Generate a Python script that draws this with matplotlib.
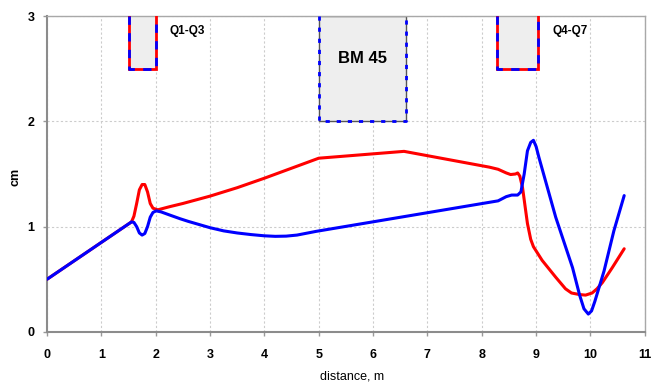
import matplotlib
matplotlib.use("Agg")
import matplotlib.pyplot as plt
from matplotlib.patches import Rectangle

plt.rcParams['font.family'] = ['Liberation Sans', 'DejaVu Sans']

# Beam envelope, horizontal (red) and vertical (blue), cm vs distance, m
red_x = [0.0, 1.555, 1.60, 1.65, 1.70, 1.75, 1.80, 1.85, 1.90, 1.95, 2.04, 2.26, 2.5, 2.75,
         3.0, 3.5, 4.0, 4.5, 5.0, 6.57, 8.14, 8.3, 8.45, 8.53, 8.62, 8.66, 8.70, 8.75, 8.80,
         8.84, 8.90, 8.95, 9.11, 9.36, 9.54, 9.65, 9.80, 9.91, 10.03, 10.12, 10.22, 10.40,
         10.62]
red_y = [0.50, 1.045, 1.10, 1.22, 1.35, 1.40, 1.40, 1.33, 1.22, 1.175, 1.16, 1.19, 1.22, 1.255,
         1.29, 1.37, 1.46, 1.555, 1.65, 1.715, 1.565, 1.545, 1.51, 1.495, 1.50, 1.51, 1.48, 1.37,
         1.18, 1.03, 0.88, 0.81, 0.68, 0.52, 0.41, 0.37, 0.355, 0.35, 0.37, 0.41, 0.47, 0.61,
         0.79]

blue_x = [0.0, 1.555, 1.60, 1.65, 1.70, 1.75, 1.80, 1.85, 1.90, 1.95, 2.01, 2.10, 2.26, 2.45,
          2.6, 2.8, 3.0, 3.25, 3.5, 3.75, 4.0, 4.2, 4.4, 4.6, 4.8, 4.95, 8.3, 8.45, 8.55, 8.66,
          8.72, 8.78, 8.84, 8.90, 8.95, 9.0, 9.05, 9.36, 9.67, 9.80, 9.88, 9.96, 10.02, 10.08,
          10.25, 10.43, 10.62]
blue_y = [0.50, 1.045, 1.04, 1.00, 0.94, 0.92, 0.935, 1.00, 1.09, 1.135, 1.15, 1.14, 1.11, 1.075,
          1.05, 1.02, 0.99, 0.96, 0.94, 0.925, 0.913, 0.908, 0.91, 0.92, 0.94, 0.955, 1.245, 1.285,
          1.30, 1.30, 1.33, 1.50, 1.72, 1.80, 1.82, 1.76, 1.66, 1.09, 0.61, 0.35, 0.22, 0.17,
          0.20, 0.29, 0.58, 0.96, 1.295]

# Magnet elements: (label, start, end, bottom)
quad_groups = [("Q1-Q3", 1.5, 2.0, 2.5), ("Q4-Q7", 8.28, 9.04, 2.5)]
bend = ("BM 45", 5.0, 6.6, 2.0)

fig = plt.figure(figsize=(6.58, 3.82), dpi=100)
ax = fig.add_axes([0.0714, 0.131, 0.9086, 0.827])
ax.set_xlim(0, 11)
ax.set_ylim(0, 3)
ax.set_xticks(range(0, 12))
ax.set_yticks([0, 1, 2, 3])

ax.grid(True, color='#cccccc', linestyle=(0, (2, 2)), linewidth=0.8)
ax.set_axisbelow(True)

# quadrupole blocks: red/blue dashed outline
for name, x0, x1, yb in quad_groups:
    ax.add_patch(Rectangle((x0, yb), x1 - x0, 3 - yb, facecolor='#eeeeee',
                           edgecolor='none', zorder=2))
    xs = [x0, x0, x1, x1]
    ys = [3, yb, yb, 3]
    ax.plot(xs, ys, color='red', lw=2.0, zorder=3, solid_joinstyle='miter')
    ax.plot(xs, ys, color='blue', lw=2.0, zorder=3, linestyle=(0, (3, 3)))
    ax.text(x1 + 0.26, 2.86, name, fontsize=8.5, fontweight='bold',
            ha='left', va='center', zorder=4)

# bending magnet block
name, x0, x1, yb = bend
ax.add_patch(Rectangle((x0, yb), x1 - x0, 3 - yb, facecolor='#eeeeee',
                       edgecolor='#555555', lw=1.0, zorder=2))
ax.plot([x0, x0, x1, x1], [3, yb, yb, 3], color='blue', lw=2.0, zorder=3,
        linestyle=(0, (1.5, 2.5)))
ax.text((x0 + x1) / 2, 2.6, name, fontsize=12, fontweight='bold',
        ha='center', va='center', zorder=4)

ax.plot(red_x, red_y, color='#ff0000', lw=2.2, zorder=5,
        solid_capstyle='round', solid_joinstyle='round')
ax.plot(blue_x, blue_y, color='#0000ff', lw=2.2, zorder=6,
        solid_capstyle='round', solid_joinstyle='round')

for side in ['left', 'bottom']:
    ax.spines[side].set_color('#8c8c8c')
    ax.spines[side].set_linewidth(1.5)
for side in ['top', 'right']:
    ax.spines[side].set_color('#a8a8a8')
    ax.spines[side].set_linewidth(1.0)

ax.tick_params(axis='both', length=3, width=1, color='#999999', labelsize=9)
for lab in ax.get_xticklabels() + ax.get_yticklabels():
    lab.set_fontweight('bold')
ax.tick_params(axis='x', pad=9)
ax.tick_params(axis='y', pad=6)

ax.set_xlabel('distance, m', fontsize=9, va='center')
ax.xaxis.set_label_coords(0.51, -0.142)
ax.set_ylabel('cm', fontsize=9, fontweight='bold', va='center')
ax.yaxis.set_label_coords(-0.052, 0.49)

fig.savefig('out.png', dpi=100)
